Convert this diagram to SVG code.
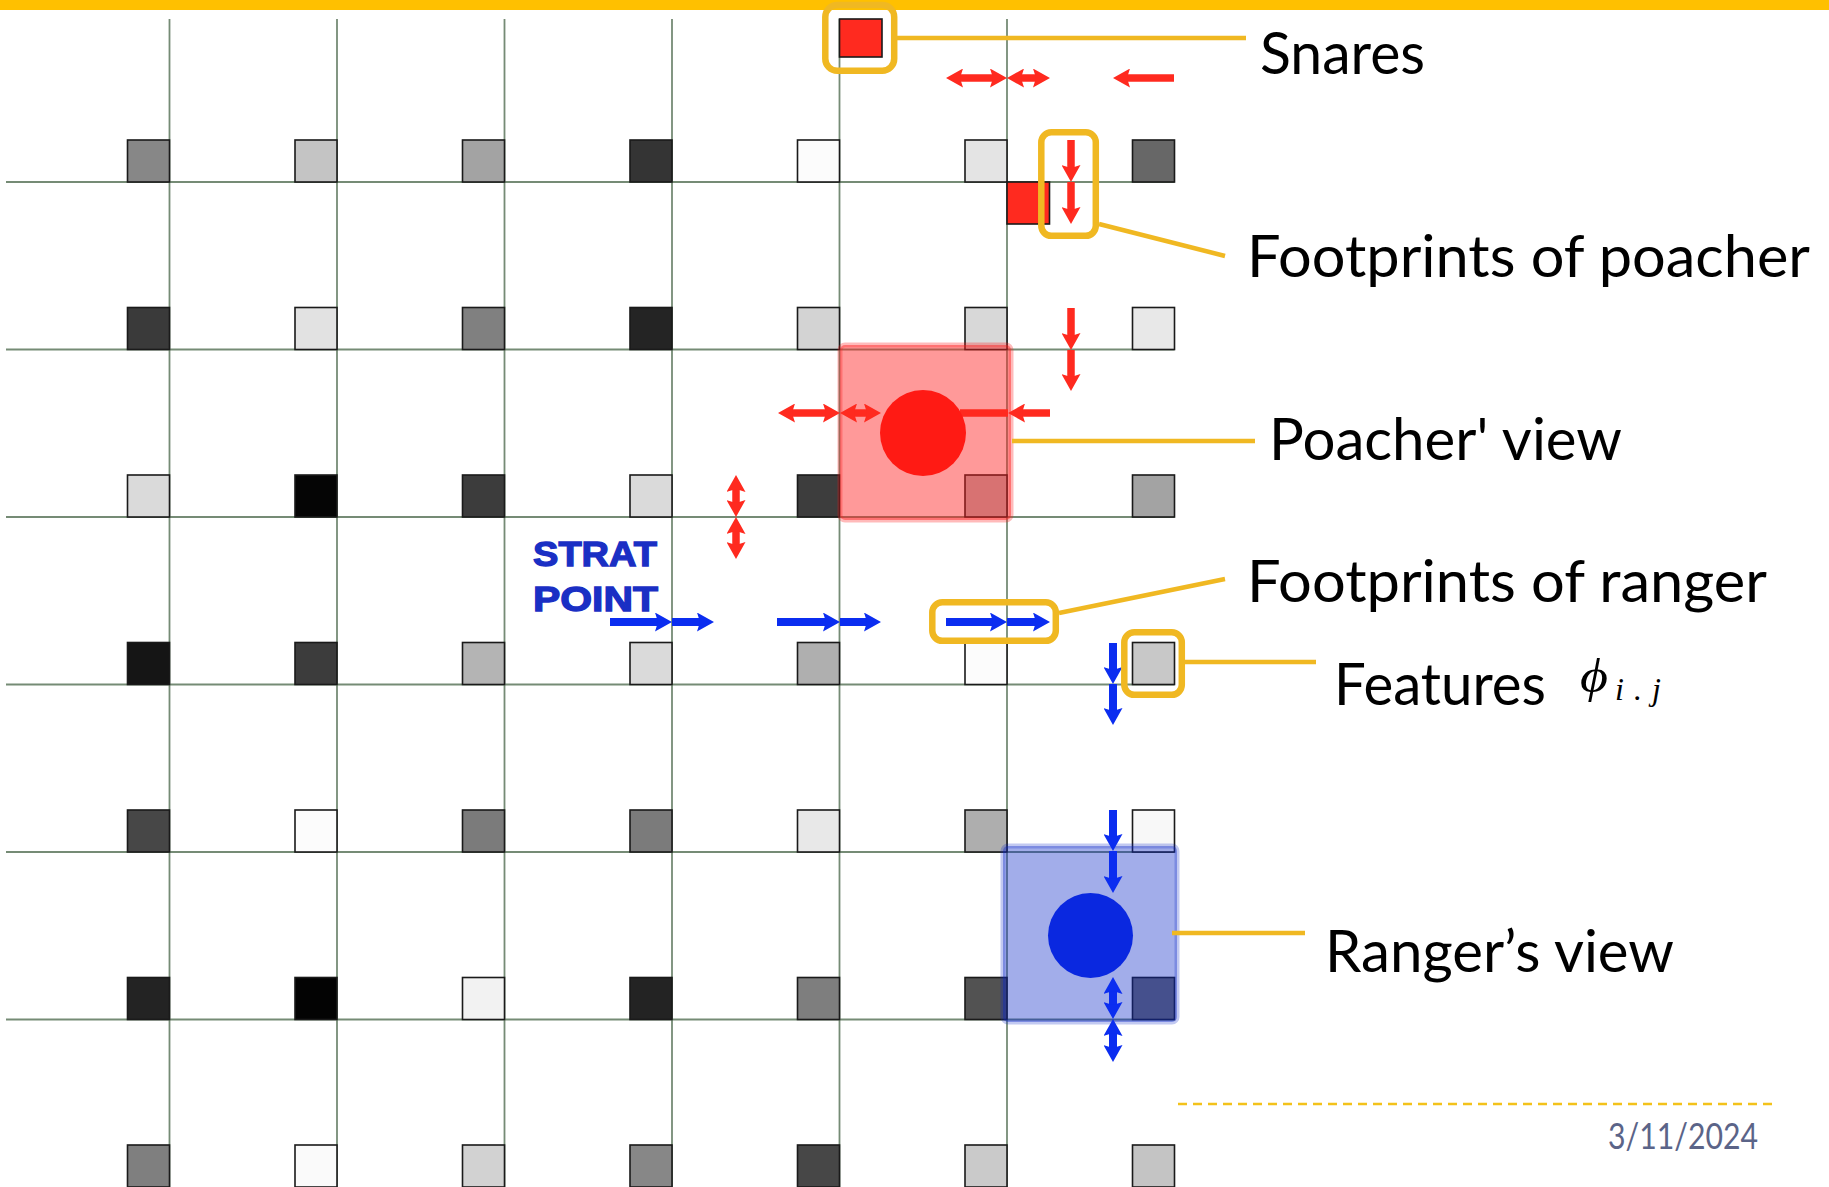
<svg xmlns="http://www.w3.org/2000/svg" width="1829" height="1187" viewBox="0 0 1829 1187">
<style>
.grid line{stroke:#758b75;stroke-width:1.8}
.sq rect{stroke:#1a1a1a;stroke-width:1.6}
.lbl{font-family:Lato,"Liberation Sans",sans-serif;font-size:58px;fill:#000}
.hl{fill:none;stroke:#f0b822;stroke-width:6.5}
.lead{stroke:#f0b822;stroke-width:4.5;fill:none}
.ra line{stroke:#ff2a1f;stroke-width:7.5}
.ba line{stroke:#0b2df0;stroke-width:8}
.strat{font-family:"Liberation Sans",Arial,sans-serif;font-weight:bold;font-size:35px;fill:#1a2fc4;stroke:#1a2fc4;stroke-width:1.3}
</style>
<defs>
<marker id="hr" viewBox="0 0 17 19" refX="6" refY="9.5" markerWidth="17" markerHeight="19" markerUnits="userSpaceOnUse" orient="auto-start-reverse"><path d="M0,0 L17,9.5 L0,19 L3,9.5 Z" fill="#ff2a1f"/></marker>
<marker id="hb" viewBox="0 0 17 19" refX="6" refY="9.5" markerWidth="17" markerHeight="19" markerUnits="userSpaceOnUse" orient="auto-start-reverse"><path d="M0,0 L17,9.5 L0,19 L3,9.5 Z" fill="#0b2df0"/></marker>
</defs>
<rect x="0" y="0" width="1829" height="1187" fill="#fff"/>
<rect id="topbar" x="0" y="0" width="1829" height="10" fill="#ffc000"/>

<g id="grid" class="grid">
<line x1="169.5" y1="19" x2="169.5" y2="1187"/>
<line x1="337" y1="19" x2="337" y2="1187"/>
<line x1="504.5" y1="19" x2="504.5" y2="1187"/>
<line x1="672" y1="19" x2="672" y2="1187"/>
<line x1="839.5" y1="19" x2="839.5" y2="1187"/>
<line x1="1007" y1="19" x2="1007" y2="1187"/>
<line x1="6" y1="182" x2="1174.5" y2="182"/>
<line x1="6" y1="349.5" x2="1174.5" y2="349.5"/>
<line x1="6" y1="517" x2="1174.5" y2="517"/>
<line x1="6" y1="684.5" x2="1174.5" y2="684.5"/>
<line x1="6" y1="852" x2="1174.5" y2="852"/>
<line x1="6" y1="1019.5" x2="1174.5" y2="1019.5"/>
</g>

<g id="features" class="sq">
<rect x="127.5" y="140" width="42" height="42" fill="#878787"/>
<rect x="295" y="140" width="42" height="42" fill="#c4c4c4"/>
<rect x="462.5" y="140" width="42" height="42" fill="#a3a3a3"/>
<rect x="630" y="140" width="42" height="42" fill="#343434"/>
<rect x="797.5" y="140" width="42" height="42" fill="#fcfcfc"/>
<rect x="965" y="140" width="42" height="42" fill="#e4e4e4"/>
<rect x="1132.5" y="140" width="42" height="42" fill="#676767"/>

<rect x="127.5" y="307.5" width="42" height="42" fill="#3a3a3a"/>
<rect x="295" y="307.5" width="42" height="42" fill="#e2e2e2"/>
<rect x="462.5" y="307.5" width="42" height="42" fill="#808080"/>
<rect x="630" y="307.5" width="42" height="42" fill="#242424"/>
<rect x="797.5" y="307.5" width="42" height="42" fill="#d3d3d3"/>
<rect x="965" y="307.5" width="42" height="42" fill="#d8d8d8"/>
<rect x="1132.5" y="307.5" width="42" height="42" fill="#e8e8e8"/>

<rect x="127.5" y="475" width="42" height="42" fill="#dadada"/>
<rect x="295" y="475" width="42" height="42" fill="#050505"/>
<rect x="462.5" y="475" width="42" height="42" fill="#3c3c3c"/>
<rect x="630" y="475" width="42" height="42" fill="#dadada"/>
<rect x="797.5" y="475" width="42" height="42" fill="#3d3d3d"/>
<rect x="965" y="475" width="42" height="42" fill="#b8b8b8"/>
<rect x="1132.5" y="475" width="42" height="42" fill="#a3a3a3"/>

<rect x="127.5" y="642.5" width="42" height="42" fill="#151515"/>
<rect x="295" y="642.5" width="42" height="42" fill="#3c3c3c"/>
<rect x="462.5" y="642.5" width="42" height="42" fill="#b4b4b4"/>
<rect x="630" y="642.5" width="42" height="42" fill="#dadada"/>
<rect x="797.5" y="642.5" width="42" height="42" fill="#afafaf"/>
<rect x="965" y="642.5" width="42" height="42" fill="#fcfcfc"/>
<rect x="1132.5" y="642.5" width="42" height="42" fill="#c8c8c8"/>

<rect x="127.5" y="810" width="42" height="42" fill="#474747"/>
<rect x="295" y="810" width="42" height="42" fill="#fcfcfc"/>
<rect x="462.5" y="810" width="42" height="42" fill="#7b7b7b"/>
<rect x="630" y="810" width="42" height="42" fill="#7b7b7b"/>
<rect x="797.5" y="810" width="42" height="42" fill="#e8e8e8"/>
<rect x="965" y="810" width="42" height="42" fill="#aeaeae"/>
<rect x="1132.5" y="810" width="42" height="42" fill="#f8f8f8"/>

<rect x="127.5" y="977.5" width="42" height="42" fill="#232323"/>
<rect x="295" y="977.5" width="42" height="42" fill="#030303"/>
<rect x="462.5" y="977.5" width="42" height="42" fill="#f2f2f2"/>
<rect x="630" y="977.5" width="42" height="42" fill="#232323"/>
<rect x="797.5" y="977.5" width="42" height="42" fill="#7e7e7e"/>
<rect x="965" y="977.5" width="42" height="42" fill="#525252"/>
<rect x="1132.5" y="977.5" width="42" height="42" fill="#6a6a6a"/>

<rect x="127.5" y="1145" width="42" height="42" fill="#7f7f7f"/>
<rect x="295" y="1145" width="42" height="42" fill="#fafafa"/>
<rect x="462.5" y="1145" width="42" height="42" fill="#d2d2d2"/>
<rect x="630" y="1145" width="42" height="42" fill="#878787"/>
<rect x="797.5" y="1145" width="42" height="42" fill="#474747"/>
<rect x="965" y="1145" width="42" height="42" fill="#cacaca"/>
<rect x="1132.5" y="1145" width="42" height="42" fill="#c4c4c4"/>
</g>

<g id="snares" class="sq">
<rect x="839.5" y="19" width="42.5" height="38" fill="#ff2a1f"/>
<rect x="1007" y="182" width="42.5" height="42" fill="#ff2a1f"/>
</g>

<g id="poacher-view">
<rect x="840" y="345" width="171" height="175" rx="5" fill="rgba(255,28,28,0.45)" stroke="rgba(255,28,28,0.3)" stroke-width="5"/>
</g>
<g id="ranger-view">
<rect x="1003" y="846" width="174" height="176" rx="5" fill="rgba(10,40,200,0.38)" stroke="rgba(10,40,200,0.25)" stroke-width="5"/>
</g>

<g id="poacher-footprints" class="ra">
<line x1="957" y1="78" x2="996" y2="78" marker-start="url(#hr)" marker-end="url(#hr)"/>
<line x1="1018" y1="78" x2="1039" y2="78" marker-start="url(#hr)" marker-end="url(#hr)"/>
<line x1="1174" y1="78" x2="1124" y2="78" marker-end="url(#hr)"/>
<line x1="1071" y1="140" x2="1071" y2="171" marker-end="url(#hr)"/>
<line x1="1071" y1="182" x2="1071" y2="213" marker-end="url(#hr)"/>
<line x1="1071" y1="308" x2="1071" y2="339" marker-end="url(#hr)"/>
<line x1="1071" y1="350" x2="1071" y2="380" marker-end="url(#hr)"/>
<line x1="789" y1="413" x2="829" y2="413" marker-start="url(#hr)" marker-end="url(#hr)"/>
<line x1="851" y1="413" x2="870" y2="413" marker-start="url(#hr)" marker-end="url(#hr)"/>
<line x1="1050" y1="413" x2="1019" y2="413" marker-end="url(#hr)"/>
<line x1="1008" y1="413" x2="960" y2="413"/>
<line x1="736" y1="486" x2="736" y2="506" marker-start="url(#hr)" marker-end="url(#hr)"/>
<line x1="736" y1="528" x2="736" y2="548" marker-start="url(#hr)" marker-end="url(#hr)"/>
</g>

<g id="ranger-footprints" class="ba">
<line x1="610" y1="622" x2="661" y2="622" marker-end="url(#hb)"/>
<line x1="672" y1="622" x2="703" y2="622" marker-end="url(#hb)"/>
<line x1="777" y1="622" x2="829" y2="622" marker-end="url(#hb)"/>
<line x1="840" y1="622" x2="870" y2="622" marker-end="url(#hb)"/>
<line x1="946" y1="622" x2="996" y2="622" marker-end="url(#hb)"/>
<line x1="1007" y1="622" x2="1039" y2="622" marker-end="url(#hb)"/>
<line x1="1113" y1="643" x2="1113" y2="673" marker-end="url(#hb)"/>
<line x1="1113" y1="684" x2="1113" y2="714" marker-end="url(#hb)"/>
<line x1="1113" y1="810" x2="1113" y2="840" marker-end="url(#hb)"/>
<line x1="1113" y1="851" x2="1113" y2="882" marker-end="url(#hb)"/>
<line x1="1113" y1="988" x2="1113" y2="1008" marker-start="url(#hb)" marker-end="url(#hb)"/>
<line x1="1113" y1="1030" x2="1113" y2="1051" marker-start="url(#hb)" marker-end="url(#hb)"/>
</g>

<g id="poacher">
<ellipse cx="923" cy="433" rx="43" ry="43" fill="#ff1a14"/>
</g>
<g id="ranger">
<circle cx="1090.5" cy="935.5" r="42.5" fill="#0a28e0"/>
</g>

<g id="strat-point">
<text class="strat" x="533" y="566" textLength="124" lengthAdjust="spacingAndGlyphs">STRAT</text>
<text class="strat" x="533" y="611" textLength="125" lengthAdjust="spacingAndGlyphs">POINT</text>
</g>

<g id="highlights">
<rect class="hl" x="825.3" y="5" width="68.9" height="65.8" rx="12"/>
<rect class="hl" x="1041.3" y="132.3" width="54.5" height="103.5" rx="10"/>
<rect class="hl" x="932.3" y="602.3" width="123.5" height="38.5" rx="10"/>
<rect class="hl" x="1124.3" y="632.3" width="57.5" height="62.5" rx="10"/>
</g>

<g id="connectors">
<line class="lead" x1="897" y1="38" x2="1246" y2="38"/>
<line class="lead" x1="1099" y1="224" x2="1225" y2="256"/>
<line class="lead" x1="1012" y1="441" x2="1255" y2="441"/>
<line class="lead" x1="1059" y1="613" x2="1225" y2="579"/>
<line class="lead" x1="1184" y1="662" x2="1316" y2="662"/>
<line class="lead" x1="1172" y1="933" x2="1305" y2="933"/>
</g>

<g id="label-snares"><text class="lbl" x="1260" y="74" textLength="165" lengthAdjust="spacingAndGlyphs">Snares</text></g>
<g id="label-poacher-footprints"><text class="lbl" x="1247" y="277" textLength="563" lengthAdjust="spacingAndGlyphs">Footprints of poacher</text></g>
<g id="label-poacher-view"><text class="lbl" x="1269" y="460" textLength="353" lengthAdjust="spacingAndGlyphs">Poacher' view</text></g>
<g id="label-ranger-footprints"><text class="lbl" x="1247" y="602" textLength="520" lengthAdjust="spacingAndGlyphs">Footprints of ranger</text></g>
<g id="label-features">
<text class="lbl" x="1334" y="705" textLength="212" lengthAdjust="spacingAndGlyphs">Features</text>
<text x="1580" y="692" font-family="'Liberation Serif','DejaVu Serif',serif" font-style="italic" font-size="48" textLength="28" lengthAdjust="spacingAndGlyphs">ϕ</text>
<text x="1615" y="700" font-family="'Liberation Serif',serif" font-style="italic" font-size="32" textLength="46" lengthAdjust="spacing">i.j</text>
</g>
<g id="label-ranger-view"><text class="lbl" x="1325" y="972" textLength="349" lengthAdjust="spacingAndGlyphs">Ranger’s view</text></g>

<line id="footer-rule" x1="1178" y1="1104" x2="1778" y2="1104" stroke="#f3c21a" stroke-width="2.5" stroke-dasharray="9 6"/>
<text id="date" x="1608" y="1149" font-family="Lato,'Liberation Sans',sans-serif" font-size="36" fill="#5b6488" textLength="150" lengthAdjust="spacingAndGlyphs">3/11/2024</text>
</svg>
